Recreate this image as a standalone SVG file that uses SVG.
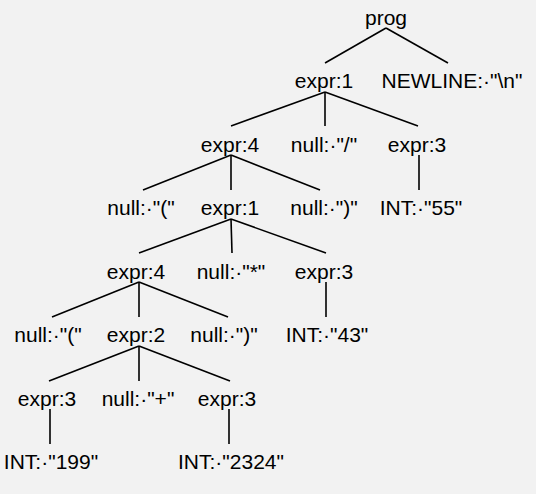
<svg xmlns="http://www.w3.org/2000/svg" width="536" height="494" viewBox="0 0 536 494">
<style>
text{font-family:"Liberation Sans",Arial,sans-serif;font-size:21px;fill:#000;text-anchor:middle}
.e line{stroke:#000;stroke-width:1.6}
</style>
<rect width="536" height="494" fill="#f2f2f2"/>
<g id="edges" class="e">
<line x1="386" y1="28" x2="325" y2="63"/>
<line x1="386" y1="28" x2="448" y2="63"/>
<line x1="325" y1="92" x2="231" y2="126"/>
<line x1="325" y1="92" x2="325" y2="126"/>
<line x1="325" y1="92" x2="418" y2="126"/>
<line x1="419" y1="155" x2="419" y2="190"/>
<line x1="231" y1="155" x2="143" y2="190"/>
<line x1="231" y1="155" x2="231" y2="190"/>
<line x1="231" y1="155" x2="320" y2="190"/>
<line x1="231" y1="219" x2="139" y2="253"/>
<line x1="231" y1="219" x2="232" y2="253"/>
<line x1="231" y1="219" x2="326" y2="253"/>
<line x1="326" y1="282" x2="326" y2="317"/>
<line x1="139" y1="282" x2="52" y2="317"/>
<line x1="139" y1="282" x2="139" y2="317"/>
<line x1="139" y1="282" x2="228" y2="317"/>
<line x1="139" y1="346" x2="49" y2="381"/>
<line x1="139" y1="346" x2="139" y2="381"/>
<line x1="139" y1="346" x2="230" y2="381"/>
<line x1="50" y1="409" x2="50" y2="444"/>
<line x1="229" y1="409" x2="229" y2="444"/>
</g>
<g id="n_prog"><text x="386" y="24.5">prog</text></g>
<g id="n_expr1_a"><text x="324" y="88">expr:1</text></g>
<g id="n_newline"><text x="452" y="88">NEWLINE:·"\n"</text></g>
<g id="n_expr4_a"><text x="230" y="151.5">expr:4</text></g>
<g id="n_slash"><text x="324" y="151.5">null:·"/"</text></g>
<g id="n_expr3_a"><text x="417" y="151.5">expr:3</text></g>
<g id="n_lp_a"><text x="141" y="215">null:·"("</text></g>
<g id="n_expr1_b"><text x="230" y="215">expr:1</text></g>
<g id="n_rp_a"><text x="324" y="215">null:·")"</text></g>
<g id="n_int55"><text x="421" y="215">INT:·"55"</text></g>
<g id="n_expr4_b"><text x="136" y="278.5">expr:4</text></g>
<g id="n_star"><text x="231" y="278.5">null:·"*"</text></g>
<g id="n_expr3_b"><text x="324" y="278.5">expr:3</text></g>
<g id="n_lp_b"><text x="48" y="342">null:·"("</text></g>
<g id="n_expr2"><text x="136" y="342">expr:2</text></g>
<g id="n_rp_b"><text x="224" y="342">null:·")"</text></g>
<g id="n_int43"><text x="327" y="342">INT:·"43"</text></g>
<g id="n_expr3_c"><text x="47" y="405.5">expr:3</text></g>
<g id="n_plus"><text x="138" y="405.5">null:·"+"</text></g>
<g id="n_expr3_d"><text x="227" y="405.5">expr:3</text></g>
<g id="n_int199"><text x="51" y="469">INT:·"199"</text></g>
<g id="n_int2324"><text x="231" y="469">INT:·"2324"</text></g>
</svg>
